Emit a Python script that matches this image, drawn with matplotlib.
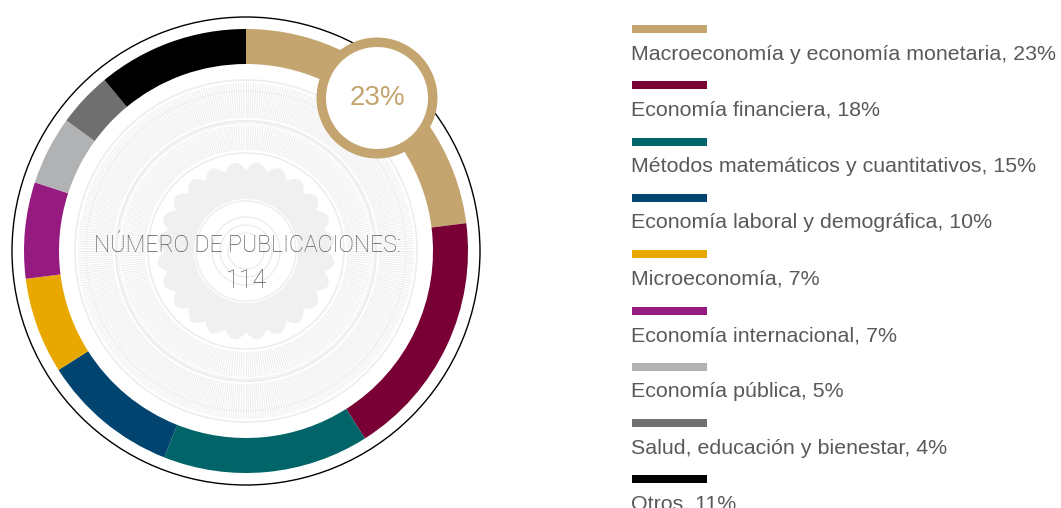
import matplotlib
matplotlib.use('Agg')
import matplotlib.pyplot as plt
import numpy as np
from matplotlib.patches import Circle, Rectangle, Polygon
from matplotlib.collections import LineCollection

# datos
categorias = ['Macroeconomía y economía monetaria', 'Economía financiera',
              'Métodos matemáticos y cuantitativos', 'Economía laboral y demográfica',
              'Microeconomía', 'Economía internacional', 'Economía pública',
              'Salud, educación y bienestar', 'Otros']
porcentajes = [23, 18, 15, 10, 7, 7, 5, 4, 11]
colores = ['#C4A56F', '#780035', '#006468', '#00446F', '#E9A800',
           '#951B81', '#B1B2B4', '#6F6F6F', '#000000']
total_publicaciones = 114
destacado = '23%'

W, H = 1061, 508
fig = plt.figure(figsize=(W / 100, H / 100), dpi=100)
ax = fig.add_axes([0, 0, 1, 1])

cx, cy = 246, H - 251  # centro del anillo

# dibujo decorativo interior (guilloche gris claro)
gris = '#ededed'
def radiales(r0, r1, n):
    t = np.linspace(0, 2 * np.pi, n, endpoint=False)
    segs = [[(cx + r0 * np.cos(a), cy + r0 * np.sin(a)),
             (cx + r1 * np.cos(a), cy + r1 * np.sin(a))] for a in t]
    return LineCollection(segs, colors=gris, linewidths=0.7, zorder=1)

ax.add_collection(radiales(133, 168, 420))
ax.add_collection(radiales(101, 126, 320))
for r, lw in [(171, 1.2), (160, 0.6), (130, 1.5), (128, 0.6), (98, 1.2)]:
    ax.add_patch(Circle((cx, cy), r, fill=False, ec=gris, lw=lw, zorder=1))

th = np.linspace(0, 2 * np.pi, 1200)
rflor = 81 + 8 * np.abs(np.sin(th * 12))
ax.add_patch(Polygon(np.column_stack([cx + rflor * np.cos(th), cy + rflor * np.sin(th)]),
                     closed=True, fc='#f0f0f0', ec='none', zorder=1))
ax.add_patch(Circle((cx, cy), 52, fc='white', ec='none', zorder=1))
for r in [50, 34, 26, 18]:
    ax.add_patch(Circle((cx, cy), r, fill=False, ec=gris, lw=1.0, zorder=1))

# anillo
ax.pie(porcentajes, colors=colores, radius=222, center=(cx, cy), startangle=90,
       counterclock=False, wedgeprops=dict(width=35, linewidth=0), frame=True)
ax.add_patch(Circle((cx, cy), 234, fill=False, ec='black', lw=1.0, zorder=3))

# texto central
ax.text(cx + 2, H - 252, 'NÚMERO DE PUBLICACIONES:', ha='center', va='baseline', fontsize=16.6,
        color='#58595B', family=['Roboto', 'DejaVu Sans'], fontweight='light', zorder=5)
ax.text(cx, H - 288, str(total_publicaciones), ha='center', va='baseline', fontsize=18,
        color='#58595B', family=['Roboto', 'DejaVu Sans'], fontweight='light', zorder=5)

# círculo destacado
bx, by = 377, H - 98
ax.add_patch(Circle((bx, by), 60.5, fc=colores[0], ec='none', zorder=6))
ax.add_patch(Circle((bx, by), 51, fc='white', ec='none', zorder=7))
ax.text(bx, by, destacado, ha='center', va='center', fontsize=20, color=colores[0],
        family='Liberation Sans', zorder=8)

# leyenda
for i, (cat, p, c) in enumerate(zip(categorias, porcentajes, colores)):
    yb = H - (29 + 56.3 * i)
    ax.add_patch(Rectangle((632, yb - 4), 75, 8, fc=c, ec='none'))
    ax.text(631, yb - 30.5, f'{cat}, {p}%', ha='left', va='baseline', fontsize=15.4,
            color='#58595B', family='Liberation Sans')

ax.set_xlim(0, W)
ax.set_ylim(0, H)
ax.set_aspect('equal')
ax.axis('off')
fig.savefig('out.png', dpi=100)
